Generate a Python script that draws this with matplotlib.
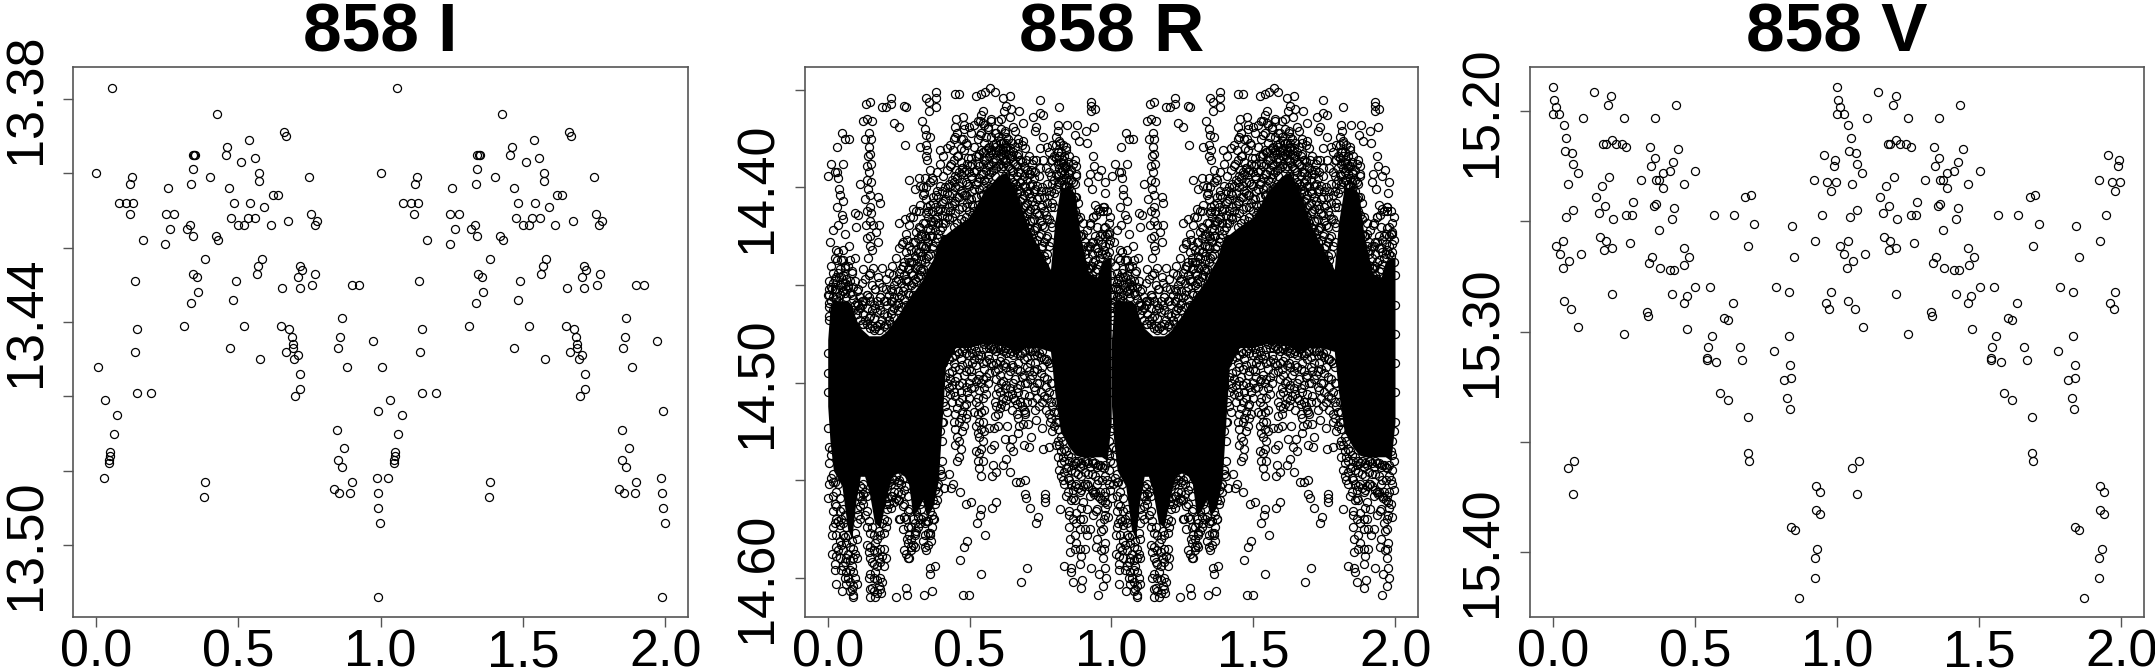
"""Phase-folded light curves of star 858 in the I, R and V bands."""

import matplotlib

matplotlib.use("Agg")

import matplotlib.pyplot as plt
import numpy as np

plt.rcParams["font.family"] = ["Liberation Sans", "DejaVu Sans"]

# I band, one cycle
i_phase = [0.000, 0.006, 0.027, 0.033, 0.046, 0.047, 0.049, 0.050, 0.057, 0.062, 0.074, 0.079, 0.106, 0.118, 0.120,
           0.128, 0.131, 0.136, 0.137, 0.144, 0.145, 0.164, 0.194, 0.243, 0.244, 0.252, 0.260, 0.274, 0.309, 0.319,
           0.331, 0.334, 0.334, 0.339, 0.344, 0.349, 0.339, 0.339, 0.341, 0.355, 0.358, 0.380, 0.383, 0.383, 0.401,
           0.420, 0.426, 0.429, 0.456, 0.461, 0.468, 0.470, 0.475, 0.481, 0.484, 0.491, 0.500, 0.511, 0.520, 0.520,
           0.533, 0.538, 0.541, 0.558, 0.560, 0.565, 0.569, 0.573, 0.574, 0.577, 0.582, 0.590, 0.614, 0.621, 0.639,
           0.650, 0.655, 0.662, 0.669, 0.667, 0.675, 0.678, 0.688, 0.691, 0.691, 0.697, 0.700, 0.708, 0.708, 0.716,
           0.716, 0.718, 0.718, 0.722, 0.749, 0.757, 0.760, 0.768, 0.771, 0.778, 0.836, 0.847, 0.849, 0.850, 0.855,
           0.858, 0.863, 0.863, 0.872, 0.882, 0.893, 0.899, 0.899, 0.924, 0.972, 0.986, 0.989, 0.989, 0.992, 0.992,
           0.999]
i_mag = [13.400, 13.452, 13.482, 13.461, 13.478, 13.477, 13.476, 13.475, 13.377, 13.470, 13.465, 13.408, 13.408,
         13.411, 13.403, 13.401, 13.408, 13.429, 13.448, 13.459, 13.442, 13.418, 13.459, 13.419, 13.411, 13.404,
         13.415, 13.411, 13.441, 13.415, 13.414, 13.435, 13.403, 13.395, 13.395, 13.395, 13.399, 13.417, 13.427,
         13.428, 13.432, 13.487, 13.483, 13.423, 13.401, 13.417, 13.384, 13.418, 13.395, 13.393, 13.404, 13.447,
         13.412, 13.434, 13.408, 13.429, 13.414, 13.397, 13.414, 13.441, 13.412, 13.391, 13.408, 13.396, 13.412,
         13.427, 13.425, 13.402, 13.400, 13.450, 13.423, 13.409, 13.414, 13.406, 13.406, 13.441, 13.431, 13.389,
         13.390, 13.448, 13.413, 13.442, 13.444, 13.446, 13.447, 13.450, 13.460, 13.428, 13.449, 13.425, 13.431,
         13.458, 13.454, 13.426, 13.401, 13.411, 13.430, 13.414, 13.427, 13.413, 13.485, 13.469, 13.477, 13.447,
         13.486, 13.444, 13.439, 13.479, 13.474, 13.452, 13.486, 13.430, 13.483, 13.430, 13.445, 13.482, 13.486,
         13.514, 13.464, 13.490, 13.494]

# V band, one cycle
v_phase = [0.000, 0.000, 0.005, 0.011, 0.011, 0.023, 0.024, 0.035, 0.037, 0.040, 0.040, 0.043, 0.045, 0.048, 0.053,
           0.053, 0.056, 0.064, 0.066, 0.071, 0.072, 0.072, 0.076, 0.088, 0.090, 0.100, 0.105, 0.145, 0.151, 0.161,
           0.167, 0.172, 0.178, 0.182, 0.183, 0.186, 0.188, 0.196, 0.199, 0.206, 0.207, 0.207, 0.209, 0.211, 0.222,
           0.243, 0.249, 0.251, 0.259, 0.259, 0.272, 0.278, 0.281, 0.310, 0.330, 0.334, 0.338, 0.342, 0.346, 0.350,
           0.355, 0.359, 0.360, 0.362, 0.363, 0.373, 0.373, 0.376, 0.387, 0.387, 0.413, 0.413, 0.418, 0.418, 0.424,
           0.426, 0.428, 0.434, 0.442, 0.460, 0.460, 0.461, 0.463, 0.471, 0.474, 0.481, 0.502, 0.502, 0.545, 0.543,
           0.543, 0.553, 0.559, 0.568, 0.576, 0.588, 0.603, 0.616, 0.616, 0.633, 0.637, 0.659, 0.667, 0.678, 0.687,
           0.687, 0.688, 0.691, 0.698, 0.709, 0.778, 0.786, 0.814, 0.825, 0.831, 0.831, 0.834, 0.838, 0.839, 0.836,
           0.841, 0.850, 0.852, 0.868, 0.920, 0.921, 0.923, 0.924, 0.926, 0.926, 0.931, 0.939, 0.939, 0.947, 0.955,
           0.960, 0.966, 0.973, 0.979, 0.979, 0.989, 0.992, 0.997]
v_mag = [15.189, 15.201, 15.195, 15.198, 15.261, 15.201, 15.265, 15.271, 15.259, 15.206, 15.286, 15.218, 15.248,
         15.212, 15.233, 15.362, 15.268, 15.290, 15.219, 15.224, 15.245, 15.374, 15.359, 15.228, 15.298, 15.265,
         15.203, 15.191, 15.239, 15.246, 15.257, 15.234, 15.215, 15.263, 15.243, 15.215, 15.259, 15.197, 15.230,
         15.193, 15.283, 15.262, 15.213, 15.249, 15.215, 15.215, 15.203, 15.301, 15.216, 15.247, 15.260, 15.247,
         15.241, 15.231, 15.291, 15.293, 15.269, 15.216, 15.225, 15.266, 15.243, 15.203, 15.221, 15.231, 15.242,
         15.231, 15.254, 15.271, 15.235, 15.228, 15.227, 15.272, 15.249, 15.283, 15.223, 15.244, 15.272, 15.197,
         15.217, 15.233, 15.262, 15.287, 15.270, 15.284, 15.299, 15.266, 15.227, 15.280, 15.307, 15.312, 15.313,
         15.280, 15.302, 15.247, 15.314, 15.328, 15.294, 15.295, 15.331, 15.287, 15.247, 15.307, 15.313, 15.239,
         15.339, 15.355, 15.261, 15.359, 15.238, 15.251, 15.309, 15.280, 15.322, 15.330, 15.282, 15.302, 15.335,
         15.389, 15.321, 15.315, 15.252, 15.266, 15.390, 15.421, 15.231, 15.412, 15.403, 15.259, 15.370, 15.381,
         15.399, 15.373, 15.383, 15.247, 15.220, 15.287, 15.232, 15.290, 15.236, 15.282, 15.225, 15.222, 15.232]

# R band: visible rings as (phase, mag) in thousandths, mag counted above 14
r_top_left = [(50, 372), (62, 375), (75, 375), (32, 379), (13, 388), (53, 388), (25, 392), (34, 392), (1, 394),
              (36, 395), (39, 401), (42, 404), (55, 407), (31, 410), (49, 414), (54, 416), (97, 413), (107, 414),
              (35, 419), (19, 422), (62, 424), (99, 420), (9, 428), (29, 432), (54, 432), (75, 430), (31, 437),
              (54, 437), (78, 437), (95, 436), (60, 440), (85, 443), (40, 446), (70, 450), (15, 452), (0, 455),
              (30, 456), (55, 453)]
r_chain_14 = [(136, 357), (150, 356), (124, 366), (138, 365), (157, 366), (145, 372), (131, 375), (151, 375),
              (145, 379), (148, 383), (139, 389), (154, 388), (145, 392), (139, 396), (113, 398), (143, 401),
              (148, 404), (130, 406), (148, 410), (154, 413), (177, 405), (183, 408), (148, 417), (136, 419),
              (160, 419), (180, 419), (139, 426), (171, 423), (148, 430), (177, 428), (141, 436), (160, 441),
              (192, 441), (124, 442), (148, 444), (177, 446), (150, 425), (142, 384), (152, 397), (140, 412),
              (155, 432), (165, 452), (140, 455), (185, 456), (205, 452), (225, 458), (120, 458), (105, 460)]
r_top_mid = [(193, 359), (205, 359), (222, 354), (222, 357), (268, 358), (275, 359), (233, 367), (251, 369),
             (274, 378), (251, 418), (271, 416), (291, 415), (262, 429), (280, 427), (230, 445), (301, 411),
             (320, 412), (286, 396), (320, 395), (344, 395), (367, 395), (306, 401), (324, 399), (336, 400),
             (346, 354), (356, 356), (383, 351), (383, 354), (383, 359), (358, 361), (333, 366), (342, 370),
             (348, 373), (360, 374), (345, 378), (324, 379), (350, 381), (345, 384), (350, 386), (394, 381),
             (361, 391), (340, 403), (345, 406), (350, 410), (330, 425), (320, 420), (345, 430), (365, 417),
             (330, 435), (285, 438), (300, 445), (265, 440), (310, 432), (275, 448), (300, 455), (325, 442),
             (345, 446), (360, 425), (352, 412), (372, 408), (382, 404)]
r_top_crest = [(447, 352), (464, 352), (524, 353), (540, 352), (555, 351), (571, 349), (588, 351), (618, 354),
               (642, 353), (629, 358), (621, 361), (647, 360), (674, 361), (548, 361), (747, 355), (747, 362),
               (759, 363), (814, 359), (929, 356), (929, 358), (941, 360), (929, 361), (843, 368), (810, 368),
               (879, 368), (939, 369), (910, 371), (873, 373), (886, 376), (914, 377), (934, 384), (940, 389),
               (964, 391), (923, 393), (953, 394), (978, 397), (917, 397), (976, 403), (932, 401), (870, 386),
               (876, 389), (876, 393), (970, 410)]
r_top_right = [(453, 365), (477, 364), (447, 369), (481, 368), (499, 369), (449, 374), (476, 375), (488, 377),
               (441, 381), (471, 380), (459, 384), (494, 385), (435, 388), (453, 391), (474, 390), (502, 389),
               (535, 366), (547, 367), (565, 369), (577, 366), (612, 365), (641, 364), (653, 369), (688, 367),
               (724, 364), (735, 369), (729, 371), (758, 374), (772, 379), (747, 380), (688, 376), (670, 377),
               (624, 371), (630, 374), (630, 377), (594, 372), (559, 374), (535, 373), (530, 384), (547, 382),
               (577, 381), (618, 382), (647, 384), (677, 386), (700, 386), (724, 386), (735, 386), (758, 386),
               (717, 391), (747, 390), (811, 371), (805, 374), (817, 377), (811, 382), (841, 379), (829, 388),
               (835, 390), (941, 409), (946, 414), (935, 415), (952, 411), (970, 412), (923, 419), (990, 423),
               (899, 424)]
r_low_left = [(1, 523), (1, 559), (16, 534), (19, 551), (16, 578), (16, 588), (28, 589), (25, 593), (25, 596),
              (28, 603), (50, 607), (89, 610), (148, 610), (189, 608), (242, 610), (275, 605), (280, 609),
              (339, 609), (369, 607), (478, 609), (497, 609), (540, 598), (467, 591), (480, 584), (491, 581),
              (554, 578), (526, 572), (537, 568), (540, 565), (579, 564), (592, 561), (410, 554), (398, 547),
              (373, 570), (360, 577), (365, 581), (359, 595), (377, 594), (362, 598), (295, 584), (283, 590),
              (269, 586), (281, 580), (306, 577), (255, 570), (488, 562), (504, 561), (465, 556), (443, 552),
              (429, 547), (435, 554)]
r_low_right = [(681, 602), (704, 595), (735, 572), (740, 569), (713, 564), (764, 557), (764, 559), (764, 561),
               (694, 557), (700, 559), (665, 551), (677, 551), (694, 550), (643, 546), (617, 542), (594, 546),
               (580, 548), (582, 542), (630, 539), (652, 535), (641, 533), (623, 529), (650, 529), (670, 526),
               (715, 528), (691, 532), (709, 533), (758, 534), (779, 533), (570, 523), (586, 523), (600, 522),
               (633, 522), (674, 522), (688, 521), (706, 521), (735, 519), (755, 523), (782, 520), (588, 517),
               (576, 534), (586, 532), (729, 514), (694, 515), (817, 565), (832, 594), (856, 595), (858, 597),
               (864, 602), (891, 605), (896, 601), (952, 609), (970, 604), (979, 600), (929, 595), (956, 598),
               (976, 595), (888, 593), (855, 587), (870, 585), (888, 585), (905, 585), (893, 589), (946, 584),
               (976, 582), (964, 586), (970, 590), (964, 576), (914, 578), (855, 580), (876, 582), (870, 578),
               (852, 574), (905, 575), (888, 570), (876, 567), (852, 568), (893, 564), (899, 561), (864, 559),
               (940, 557), (958, 559), (976, 561), (946, 566), (976, 568), (988, 569), (970, 575), (999, 445),
               (999, 460), (999, 475), (999, 490), (999, 505), (999, 520), (0, 485), (0, 495), (0, 505)]

# R band: rings crowding the edges of the solid band, by phase column (upper edge then lower edge)
r_edge_phase = [6, 18, 30, 42, 54, 66, 78, 90, 102, 114, 126, 138, 150, 162, 174, 186, 198, 210, 222, 234, 246, 258,
                270, 282, 294, 306, 318, 330, 342, 354, 366, 378, 390, 402, 414, 426, 438, 450, 462, 474, 486, 498,
                510, 522, 534, 546, 558, 570, 582, 594, 606, 618, 630, 642, 654, 666, 678, 690, 702, 714, 726, 738,
                750, 762, 774, 786, 798, 810, 822, 834, 846, 858, 870, 882, 894, 906, 918, 930, 942, 954, 966, 978,
                990]
r_edge_mag = [
    [448, 455, 461, 468, 533, 541, 552], [444, 449, 456, 463, 547, 558, 566, 574], [446, 452, 457, 556, 563, 570, 578, 584],
    [442, 450, 455, 559, 566, 573, 581, 590], [445, 449, 453, 565, 572, 578, 586, 594], [447, 452, 456, 574, 582, 590, 597, 603],
    [448, 454, 584, 591, 596, 602, 607], [451, 457, 463, 585, 590, 597, 604, 609], [453, 459, 465, 565, 572, 580, 590, 603],
    [456, 462, 468, 553, 558, 563, 570], [458, 465, 470, 552, 557, 562], [455, 462, 470, 558, 566, 574, 583],
    [458, 466, 472, 577, 584, 590, 598, 606], [460, 467, 473, 578, 586, 593, 600, 607], [458, 464, 471, 580, 587, 594, 601, 608],
    [456, 463, 470, 578, 585, 592, 600, 606], [458, 465, 471, 570, 577, 585, 594], [460, 466, 472, 553, 559, 565, 571],
    [452, 458, 465, 470, 552, 558, 564], [450, 456, 462, 467, 550, 556, 561], [447, 453, 459, 463, 551, 556, 560],
    [442, 449, 455, 461, 552, 557], [438, 445, 451, 457, 555, 562, 569], [436, 442, 448, 454, 558, 566, 574, 582],
    [432, 438, 444, 450, 574, 580, 586], [428, 435, 441, 447, 452, 572, 578, 584], [426, 433, 440, 446, 569, 574],
    [424, 430, 437, 443, 565, 570], [418, 425, 431, 438, 572, 578, 584], [415, 421, 428, 435, 440, 571, 577, 583],
    [412, 419, 425, 431, 568, 574], [410, 416, 422, 428, 555, 562], [405, 412, 418, 424, 552, 556],
    [402, 408, 414, 420, 520, 530, 540, 548], [400, 406, 412, 418, 497, 505, 512], [398, 404, 410, 416, 488, 495, 503],
    [396, 403, 409, 415, 487, 494, 501, 510], [394, 400, 407, 413, 486, 492, 499, 507, 516, 524, 532],
    [392, 399, 405, 411, 485, 493, 501, 510, 520, 530, 538], [390, 397, 403, 410, 484, 491, 500, 508, 515, 525],
    [391, 397, 404, 410, 415, 485, 494, 502, 511, 518], [392, 399, 406, 412, 486, 493, 500, 508],
    [388, 395, 402, 409, 414, 485, 490, 497], [384, 391, 398, 405, 484, 491, 499, 510, 522, 535],
    [383, 389, 395, 401, 488, 496, 504, 512, 520, 528, 536, 544], [382, 388, 393, 399, 404, 483, 490, 498, 508, 520, 530, 540],
    [381, 386, 391, 397, 402, 482, 489, 497, 506], [379, 384, 389, 393, 482, 488, 495], [378, 383, 387, 391, 483, 491],
    [377, 382, 386, 390, 484, 490, 498, 506, 512], [376, 380, 384, 388, 483, 489, 496, 505, 513], [377, 381, 385, 389, 484, 491, 499, 508],
    [379, 383, 387, 485, 492, 501, 509], [380, 385, 390, 395, 399, 485, 494, 503], [382, 387, 392, 397, 401, 486, 492, 500, 508],
    [384, 389, 394, 399, 403, 408, 485, 493, 503, 511, 516], [386, 392, 397, 402, 407, 412, 486, 494, 501, 510],
    [389, 394, 399, 404, 410, 415, 488, 496, 506, 514], [391, 396, 402, 408, 413, 420, 487, 492, 500, 510],
    [393, 399, 405, 411, 417, 423, 484, 490, 498], [395, 402, 409, 416, 422, 428, 486, 494, 502], [399, 406, 413, 420, 427, 486, 493, 500, 508],
    [402, 410, 417, 424, 431, 436, 487, 495, 505], [405, 412, 420, 428, 435, 440, 488, 497, 507], [398, 408, 416, 425, 434, 489, 498, 508],
    [386, 394, 402, 410, 418, 428, 492, 500, 510, 518], [384, 390, 396, 403, 410, 506, 515, 522], [382, 388, 394, 398, 515, 524, 530, 538],
    [382, 387, 392, 396, 528, 535, 541, 548], [384, 389, 393, 398, 534, 540, 546, 552], [387, 392, 397, 402, 537, 543, 549, 556],
    [391, 396, 402, 408, 414, 538, 545, 552, 560], [398, 405, 412, 418, 424, 432, 540, 546, 553, 560], [408, 416, 424, 432, 438, 540, 547, 554],
    [425, 432, 438, 443, 541, 548, 555], [428, 434, 440, 445, 540, 546, 552], [430, 436, 441, 541, 547, 553],
    [428, 434, 440, 445, 540, 547, 555], [425, 431, 437, 443, 541, 548, 556], [427, 433, 439, 542, 550, 558],
    [424, 429, 434, 543, 550, 560], [420, 425, 430, 434, 542, 548, 556, 564], [418, 424, 429, 433, 530, 537, 545, 552],
]
# second pass between those columns, where the rings are less orderly
r_gap_phase = [3, 12, 24, 36, 48, 60, 72, 84, 96, 108, 120, 132, 144, 156, 168, 180, 192, 204, 216, 228, 240, 252,
               264, 276, 288, 300, 312, 324, 336, 348, 360, 372, 384, 396, 408, 420, 432, 444, 456, 468, 480, 492,
               504, 516, 528, 540, 552, 564, 576, 588, 600, 612, 624, 636, 648, 660, 672, 684, 696, 708, 720, 732,
               744, 756, 768, 780, 792, 804, 816, 828, 840, 852, 864, 876, 888, 900, 912, 924, 936, 948, 960, 972,
               984, 996]
r_gap_mag = [
    [452, 459, 466], [440, 451, 458, 537, 549], [436, 447, 452, 460, 551, 562, 572], [433, 444, 458, 552, 571, 586],
    [437, 446, 451, 570, 583, 596], [441, 449, 454, 568, 579, 592, 600], [440, 451, 578, 588, 600], [444, 455, 581, 594, 606],
    [448, 460, 577, 588, 600], [452, 463, 558, 568], [449, 460, 470, 554, 560], [447, 458, 468, 556, 568],
    [445, 456, 467, 571, 587, 600], [450, 463, 471, 574, 592, 605], [452, 462, 472, 582, 597, 610], [449, 460, 473, 576, 590, 604],
    [451, 468, 572, 589, 602], [447, 458, 470, 562, 574, 590], [444, 455, 468, 551, 562], [440, 453, 463, 549, 558],
    [436, 448, 460, 548, 559], [431, 444, 456, 550, 560, 570], [428, 440, 453, 549, 563, 575], [424, 433, 447, 460, 553, 570, 588],
    [419, 430, 441, 455, 565, 578, 590], [415, 428, 438, 449, 570, 583], [412, 423, 436, 448, 566, 576], [409, 421, 433, 445, 562, 572],
    [404, 418, 430, 442, 569, 581], [400, 413, 426, 436, 571, 586], [397, 409, 422, 434, 566, 578], [396, 405, 417, 430, 560, 570],
    [392, 402, 415, 426, 553, 560], [388, 399, 411, 422, 500, 525, 545], [384, 394, 407, 418, 490, 510, 520], [380, 391, 403, 415, 485, 500, 515],
    [378, 389, 399, 412, 484, 498, 506], [375, 386, 397, 408, 420, 490, 505, 520], [372, 384, 395, 405, 418, 484, 497, 513, 528, 540],
    [375, 387, 393, 402, 416, 488, 505, 518, 534], [370, 381, 392, 404, 417, 482, 496, 512, 522], [378, 388, 398, 408, 419, 481, 490, 505, 516],
    [372, 385, 394, 406, 418, 483, 494, 503], [368, 379, 392, 401, 412, 481, 488, 502, 515], [366, 375, 388, 397, 409, 486, 498, 508, 516, 526, 540],
    [363, 372, 381, 393, 404, 486, 500, 515, 524, 534, 548], [368, 377, 386, 396, 407, 480, 493, 503, 514, 525], [370, 380, 388, 395, 403, 480, 486, 500],
    [365, 374, 382, 392, 400, 481, 490], [372, 379, 385, 394, 402, 482, 494, 510], [366, 374, 381, 389, 398, 482, 493, 503, 516],
    [370, 377, 383, 390, 396, 402, 481, 487, 500, 511], [372, 380, 386, 394, 401, 482, 490, 503, 512], [375, 383, 389, 397, 404, 483, 496, 507],
    [377, 384, 391, 400, 408, 484, 491, 506, 514], [371, 379, 388, 398, 406, 412, 483, 498, 509], [375, 383, 392, 401, 410, 417, 482, 490, 505, 518],
    [378, 387, 396, 406, 414, 422, 485, 497, 512], [380, 390, 399, 409, 418, 426, 484, 500, 516], [384, 393, 403, 412, 421, 430, 482, 494, 507],
    [388, 398, 407, 417, 426, 434, 484, 496, 510], [392, 401, 411, 421, 431, 439, 484, 490, 504], [394, 405, 414, 425, 434, 442, 485, 500, 512],
    [400, 409, 419, 430, 440, 484, 492, 510], [390, 402, 414, 426, 437, 488, 502, 514], [382, 392, 404, 416, 430, 490, 505, 516],
    [378, 386, 398, 408, 420, 500, 512, 525], [378, 385, 393, 401, 510, 520, 532], [376, 384, 390, 397, 520, 532, 545], [378, 386, 391, 396, 530, 538, 550],
    [381, 389, 395, 400, 535, 544, 558], [384, 393, 400, 406, 540, 550, 566], [388, 397, 406, 414, 424, 542, 555, 570], [394, 405, 414, 425, 435, 541, 552, 572],
    [415, 425, 435, 442, 543, 556, 575], [418, 430, 440, 447, 542, 553, 570], [422, 432, 443, 540, 552, 565], [418, 430, 441, 543, 558, 575],
    [415, 428, 438, 447, 541, 556, 568], [420, 431, 442, 543, 552, 565, 580], [412, 425, 436, 542, 556, 572], [410, 421, 432, 544, 558, 570, 585],
    [412, 424, 435, 535, 550, 562], [415, 427, 438, 525, 540, 555],
]

# solid band where the R rings overlap completely, read from its edges
r_core_phase = [0.000, 0.008, 0.020, 0.050, 0.070, 0.085, 0.100, 0.115, 0.130, 0.145, 0.165, 0.185, 0.205, 0.225,
                0.250, 0.270, 0.285, 0.300, 0.315, 0.335, 0.350, 0.370, 0.390, 0.405, 0.415, 0.450, 0.500, 0.550,
                0.600, 0.630, 0.665, 0.700, 0.740, 0.785, 0.800, 0.820, 0.850, 0.872, 0.890, 0.920, 0.950, 0.965,
                0.985, 0.999]
r_core_top = [14.478, 14.462, 14.458, 14.458, 14.458, 14.460, 14.468, 14.472, 14.474, 14.476, 14.476, 14.476,
              14.474, 14.470, 14.465, 14.460, 14.457, 14.454, 14.451, 14.447, 14.442, 14.437, 14.428, 14.424,
              14.424, 14.420, 14.415, 14.402, 14.394, 14.392, 14.403, 14.418, 14.430, 14.442, 14.418, 14.400,
              14.400, 14.403, 14.425, 14.444, 14.446, 14.438, 14.436, 14.436]
r_core_bottom = [14.512, 14.530, 14.545, 14.553, 14.575, 14.580, 14.560, 14.548, 14.548, 14.555, 14.572, 14.574,
                 14.560, 14.548, 14.546, 14.548, 14.552, 14.568, 14.566, 14.560, 14.568, 14.564, 14.550, 14.515,
                 14.492, 14.482, 14.482, 14.480, 14.480, 14.482, 14.484, 14.482, 14.482, 14.484, 14.505, 14.525,
                 14.533, 14.537, 14.538, 14.538, 14.538, 14.538, 14.540, 14.520]

x_ticks = [0.0, 0.5, 1.0, 1.5, 2.0]
i_ticks = [13.38, 13.40, 13.42, 13.44, 13.46, 13.48, 13.50]
i_labels = ["13.38", "", "", "13.44", "", "", "13.50"]
r_ticks = [14.35, 14.40, 14.45, 14.50, 14.55, 14.60]
r_labels = ["", "14.40", "", "14.50", "", "14.60"]
v_ticks = [15.20, 15.25, 15.30, 15.35, 15.40]
v_labels = ["15.20", "", "15.30", "", "15.40"]

FIG_W, FIG_H = 2155, 668
BOX_TOP, BOX_BOTTOM = 66.7, 617


def add_panel(fig, left, right, title, ylim, yticks, ylabels):
    ax = fig.add_axes([left / FIG_W, 1 - BOX_BOTTOM / FIG_H, (right - left) / FIG_W, (BOX_BOTTOM - BOX_TOP) / FIG_H])
    ax.set_xlim(-0.08, 2.08)
    ax.set_ylim(*ylim)
    ax.set_xticks(x_ticks)
    ax.set_xticklabels([f"{t:.1f}" for t in x_ticks], fontsize=37.5)
    ax.set_yticks(yticks)
    ax.set_yticklabels(ylabels, fontsize=37.5, rotation=90, va="center")
    ax.tick_params(axis="x", length=7.5, width=1.0, color="#555555", pad=0.5)
    ax.tick_params(axis="y", length=7.5, width=1.0, color="#555555", pad=8.5)
    for spine in ax.spines.values():
        spine.set_linewidth(1.2)
        spine.set_color("#555555")
    fig.text((left + right) / 2 / FIG_W, 1 - 51.5 / FIG_H, title, fontsize=50, fontweight="bold", ha="center", va="baseline")
    return ax


def rings(ax, phase, mag):
    # every cycle is drawn twice, at phase and phase + 1
    phase = np.asarray(phase)
    ax.plot(np.r_[phase, phase + 1], np.r_[mag, mag], "o", mfc="none", mec="black", ms=5.8, mew=0.9)


def ring_columns(ax, phases, mag_lists):
    for phase, mags in zip(phases, mag_lists):
        rings(ax, np.full(len(mags), phase / 1000), 14 + np.array(mags) / 1000)


fig = plt.figure(figsize=(FIG_W / 100, FIG_H / 100), dpi=100)

ax = add_panel(fig, 73.3, 688, "858 I", (13.5193, 13.3714), i_ticks, i_labels)
rings(ax, i_phase, i_mag)

ax = add_panel(fig, 805, 1418, "858 R", (14.6201, 14.3381), r_ticks, r_labels)
core_x = np.array(r_core_phase)
for shift in (0, 1):
    ax.fill_between(core_x + shift, r_core_top, r_core_bottom, color="black", lw=0)
r_rings = np.array(r_top_left + r_chain_14 + r_top_mid + r_top_crest + r_top_right + r_low_left + r_low_right)
rings(ax, r_rings[:, 0] / 1000, 14 + r_rings[:, 1] / 1000)
ring_columns(ax, r_edge_phase, r_edge_mag)
ring_columns(ax, r_gap_phase, r_gap_mag)

ax = add_panel(fig, 1530, 2144, "858 V", (15.4297, 15.1797), v_ticks, v_labels)
rings(ax, v_phase, v_mag)

fig.savefig("out.png", dpi=100)
plt.close(fig)
